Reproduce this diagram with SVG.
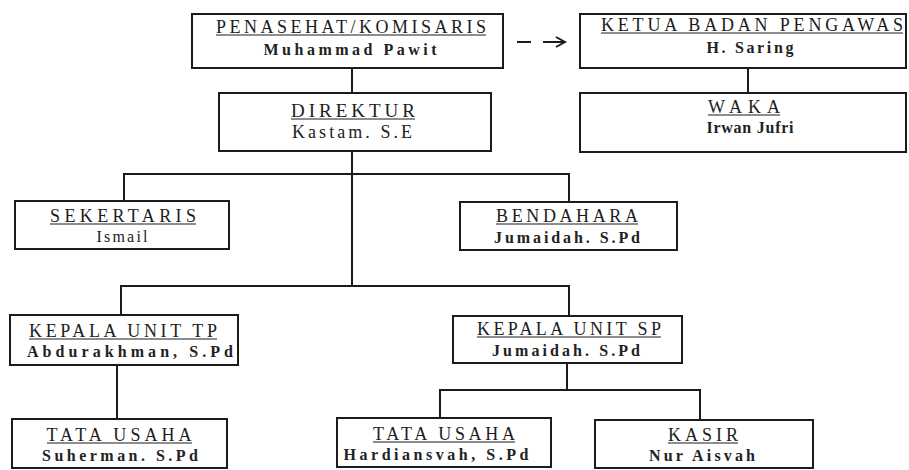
<svg xmlns="http://www.w3.org/2000/svg" width="909" height="470" viewBox="0 0 909 470">
<style>
.box{fill:#fff;stroke:#1c1c1c;stroke-width:2}
.t{font-family:"Liberation Serif","Times New Roman",serif;font-size:18px;fill:#1c1c1c;text-anchor:middle}
.n{font-family:"Liberation Serif","Times New Roman",serif;font-size:16px;font-weight:bold;fill:#222;text-anchor:middle}
.u{stroke:#1c1c1c;stroke-width:1.2}
.c{fill:none;stroke:#1c1c1c;stroke-width:2}
</style>
<defs>
<marker id="ah" markerWidth="12" markerHeight="12" refX="10" refY="6" orient="auto" markerUnits="userSpaceOnUse">
<path d="M1 1 L10 6 L1 11" fill="none" stroke="#1c1c1c" stroke-width="2"/>
</marker>
</defs>
<rect width="909" height="470" fill="#fff"/>
<g id="connectors">
<path class="c" d="M352 68 V93"/>
<path class="c" d="M748 68 V93"/>
<path class="c" d="M352 138 V286"/>
<path class="c" d="M124 201 V174 H569 V202"/>
<path class="c" d="M121 315 V286 H569 V316"/>
<path class="c" d="M117 365 V419"/>
<path class="c" d="M567 363 V390"/>
<path class="c" d="M440 418 V390 H700 V420"/>
<path class="c" d="M517 42 H565" stroke-dasharray="14 12 30" marker-end="url(#ah)"/>
</g>
<g id="penasehat">
<rect class="box" x="192" y="14" width="311" height="54"/>
<text class="t" x="351" y="33" textLength="270" lengthAdjust="spacing">PENASEHAT/KOMISARIS</text>
<line class="u" x1="216" y1="35" x2="486" y2="35"/>
<text class="n" x="350" y="55" textLength="173" lengthAdjust="spacing">Muhammad Pawit</text>
</g>
<g id="ketua">
<rect class="box" x="580" y="14" width="326" height="54"/>
<text class="t" x="752" y="31" textLength="302" lengthAdjust="spacing">KETUA BADAN PENGAWAS</text>
<line class="u" x1="601" y1="33" x2="903" y2="33"/>
<text class="n" x="750" y="53" textLength="87" lengthAdjust="spacing">H. Saring</text>
</g>
<g id="waka">
<rect class="box" x="580" y="93" width="326" height="59"/>
<text class="t" x="744" y="113" textLength="72" lengthAdjust="spacing">WAKA</text>
<line class="u" x1="708" y1="115" x2="780" y2="115"/>
<text class="n" x="750" y="133" textLength="87" lengthAdjust="spacing">Irwan Jufri</text>
</g>
<g id="direktur">
<rect class="box" x="219" y="93" width="272" height="58"/>
<text class="t" x="353" y="117" textLength="124" lengthAdjust="spacing" style="font-size:19px">DIREKTUR</text>
<line class="u" x1="291" y1="119" x2="415" y2="119"/>
<text class="n" x="352" y="138" textLength="120" lengthAdjust="spacing" style="font-weight:normal;font-size:18px">Kastam. S.E</text>
</g>
<g id="sekertaris">
<rect class="box" x="15" y="201" width="214" height="48"/>
<text class="t" x="123" y="222" textLength="146" lengthAdjust="spacing">SEKERTARIS</text>
<line class="u" x1="50" y1="224" x2="196" y2="224"/>
<text class="n" x="122" y="242" textLength="51" lengthAdjust="spacing" style="font-weight:normal">Ismail</text>
</g>
<g id="bendahara">
<rect class="box" x="460" y="202" width="217" height="48"/>
<text class="t" x="567" y="222" textLength="142" lengthAdjust="spacing">BENDAHARA</text>
<line class="u" x1="496" y1="224" x2="638" y2="224"/>
<text class="n" x="567" y="243" textLength="146" lengthAdjust="spacing">Jumaidah. S.Pd</text>
</g>
<g id="kepala-tp">
<rect class="box" x="10" y="315" width="228" height="50"/>
<text class="t" x="123" y="337" textLength="188" lengthAdjust="spacing">KEPALA UNIT TP</text>
<line class="u" x1="29" y1="339" x2="217" y2="339"/>
<text class="n" x="130" y="357" textLength="206" lengthAdjust="spacing">Abdurakhman, S.Pd</text>
</g>
<g id="kepala-sp">
<rect class="box" x="453" y="316" width="229" height="47"/>
<text class="t" x="569" y="335" textLength="184" lengthAdjust="spacing">KEPALA UNIT SP</text>
<line class="u" x1="477" y1="337" x2="661" y2="337"/>
<text class="n" x="566" y="356" textLength="148" lengthAdjust="spacing">Jumaidah. S.Pd</text>
</g>
<g id="tata-usaha-1">
<rect class="box" x="12" y="419" width="215" height="49"/>
<text class="t" x="119" y="441" textLength="145" lengthAdjust="spacing">TATA USAHA</text>
<line class="u" x1="47" y1="443" x2="192" y2="443"/>
<text class="n" x="120" y="461" textLength="156" lengthAdjust="spacing">Suherman. S.Pd</text>
</g>
<g id="tata-usaha-2">
<rect class="box" x="337" y="418" width="214" height="49"/>
<text class="t" x="444" y="440" textLength="142" lengthAdjust="spacing">TATA USAHA</text>
<line class="u" x1="373" y1="442" x2="515" y2="442"/>
<text class="n" x="436" y="460" textLength="185" lengthAdjust="spacing">Hardiansvah, S.Pd</text>
</g>
<g id="kasir">
<rect class="box" x="595" y="420" width="218" height="48"/>
<text class="t" x="703" y="441" textLength="70" lengthAdjust="spacing">KASIR</text>
<line class="u" x1="668" y1="443" x2="738" y2="443"/>
<text class="n" x="702" y="461" textLength="106" lengthAdjust="spacing">Nur Aisvah</text>
</g>
</svg>
